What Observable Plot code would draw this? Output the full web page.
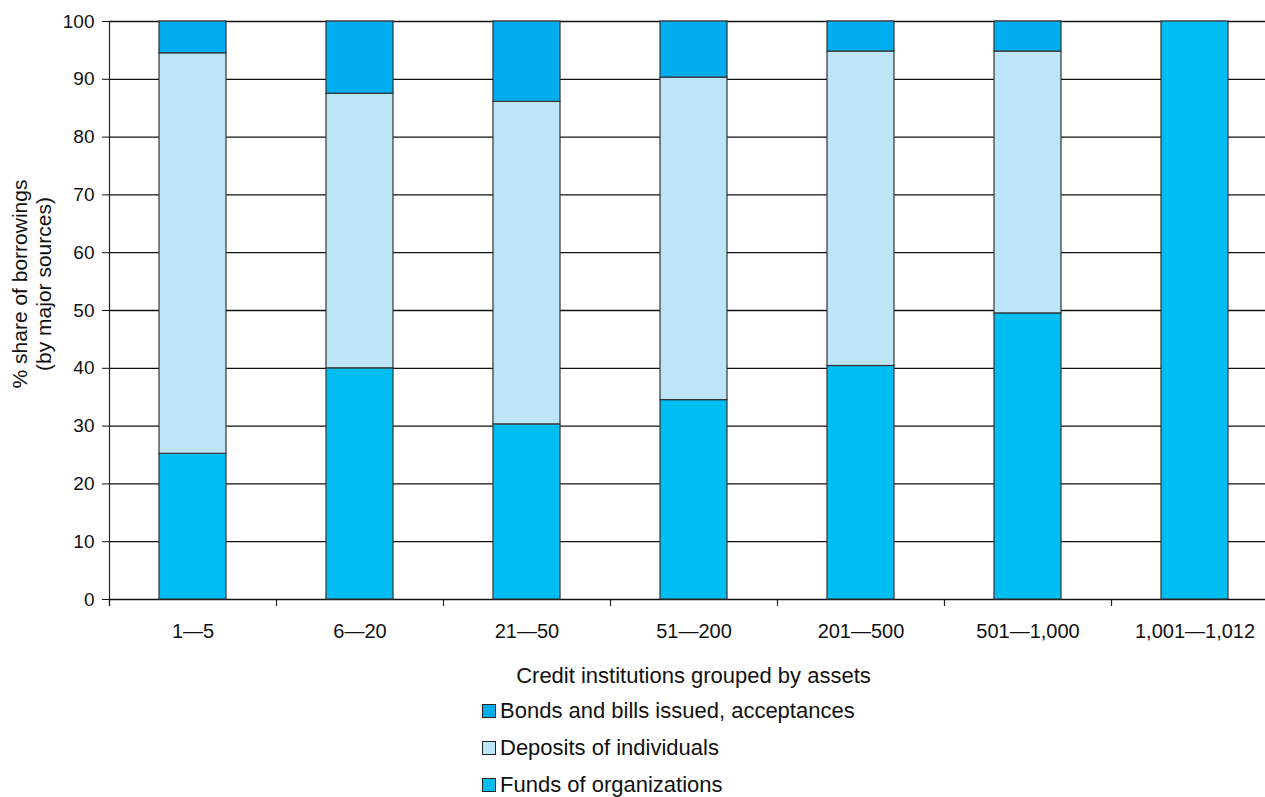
<!DOCTYPE html>
<html>
<head>
<meta charset="utf-8">
<script src="https://cdn.jsdelivr.net/npm/d3@7"></script>
<script src="https://cdn.jsdelivr.net/npm/@observablehq/plot@0.6"></script>
<style>
  html, body { margin: 0; padding: 0; background: #fff; }
  body { font-family: "Liberation Sans", Arial, sans-serif; width: 1265px; height: 797px; overflow: hidden; }
  #legend { margin-left: 482px; font-size: 22px; color: #111; }
  .row { height: 37px; display: flex; align-items: center; }
  .sw { width: 14px; height: 14px; border: 1px solid #222; margin-right: 4px; box-sizing: border-box; }
</style>
</head>
<body>
<div id="chart"></div>
<div id="legend"></div>
<script>
const categories = ["1\u20145", "6\u201420", "21\u201450", "51\u2014200", "201\u2014500", "501\u20141,000", "1,001\u20141,012"];
const funds    = [25.2, 40.0, 30.3, 34.5, 40.4, 49.5, 100];
const deposits = [69.3, 47.5, 55.8, 55.8, 54.4, 45.3, 0];
const bonds    = [5.5, 12.5, 13.9, 9.7, 5.2, 5.2, 0];
const seriesNames = ["Funds of organizations", "Deposits of individuals", "Bonds and bills issued, acceptances"];
const seriesColors = ["#00bdf2", "#bde5f8", "#00adee"];
const legendOrder = ["Bonds and bills issued, acceptances", "Deposits of individuals", "Funds of organizations"];
const yTicks = [0, 10, 20, 30, 40, 50, 60, 70, 80, 90, 100];
const yLabelLines = ["% share of borrowings", "(by major sources)"];
const xLabelText = "Credit institutions grouped by assets";

const seriesValues = [funds, deposits, bonds];
const data = [];
seriesNames.forEach((s, si) => {
  categories.forEach((c, ci) => data.push({category: c, series: s, value: seriesValues[si][ci]}));
});

const FONT = 19;
const FAM = '"Liberation Sans", Arial, sans-serif';

const decorations = (index, scales, values, dims) => {
  const x = scales.x, y = scales.y;
  const root = d3.create("svg:g");
  const g = root.append("g").attr("stroke", "#222").attr("stroke-width", 1.2);
  const off = (x.step() - x.bandwidth()) / 2;
  const y0 = y(0);
  categories.forEach(c => {
    const bx = Math.round(x(c) - off) + 0.5;
    g.append("line").attr("x1", bx).attr("x2", bx).attr("y1", y0).attr("y2", y0 + 7);
  });
  const ax = Math.round(x(categories[0]) - off) + 0.5;
  g.append("line").attr("x1", ax).attr("x2", ax).attr("y1", y(100)).attr("y2", y0 + 7);
  // y-axis title, two lines, rotated
  const cy = (y(0) + y(100)) / 2 - 26;
  const t = root.append("text")
    .attr("transform", `translate(${ax - 78},${cy}) rotate(-90)`)
    .attr("text-anchor", "middle")
    .attr("font-family", FAM)
    .attr("font-size", 21)
    .attr("fill", "#111");
  yLabelLines.forEach((line, i) => {
    t.append("tspan").attr("x", 0).attr("y", (i - 0.5) * 24).attr("dy", "0.35em").text(line);
  });
  // x-axis title
  root.append("text")
    .attr("x", (x.range()[0] + x.range()[1]) / 2)
    .attr("y", y0 + 76)
    .attr("dy", "0.35em")
    .attr("text-anchor", "middle")
    .attr("font-family", FAM)
    .attr("font-size", 22)
    .attr("fill", "#111")
    .text(xLabelText);
  return root.node();
};

const chart = Plot.plot({
  width: 1265,
  height: 692,
  marginTop: 21,
  marginBottom: 93,
  marginLeft: 109,
  marginRight: 0,
  style: {fontFamily: FAM, fontSize: FONT + "px", color: "#111", background: "#fff"},
  x: {domain: categories, range: [109, 1278], paddingInner: 0.6, paddingOuter: 0.3, align: 0.5},
  y: {domain: [0, 100]},
  color: {domain: seriesNames, range: seriesColors},
  marks: [
    Plot.ruleY(yTicks, {stroke: "#111", strokeWidth: 1.3}),
    Plot.barY(data, Plot.stackY({
      x: "category", y: "value", fill: "series", order: seriesNames,
      stroke: "#333", strokeWidth: 1.2
    })),
    decorations,
    Plot.axisY({ticks: yTicks, tickSize: 7, tickPadding: 8, label: null, fontSize: FONT, stroke: "#111"}),
    Plot.axisX({tickSize: 0, tickPadding: 24, fontSize: 20, label: null})
  ]
});
document.getElementById("chart").appendChild(chart);

const colorOf = s => seriesColors[seriesNames.indexOf(s)];
const legend = document.getElementById("legend");
legendOrder.forEach(s => {
  const row = document.createElement("div");
  row.className = "row";
  const sw = document.createElement("div");
  sw.className = "sw";
  sw.style.background = colorOf(s);
  const t = document.createElement("span");
  t.textContent = s;
  row.appendChild(sw);
  row.appendChild(t);
  legend.appendChild(row);
});
</script>
</body>
</html>
